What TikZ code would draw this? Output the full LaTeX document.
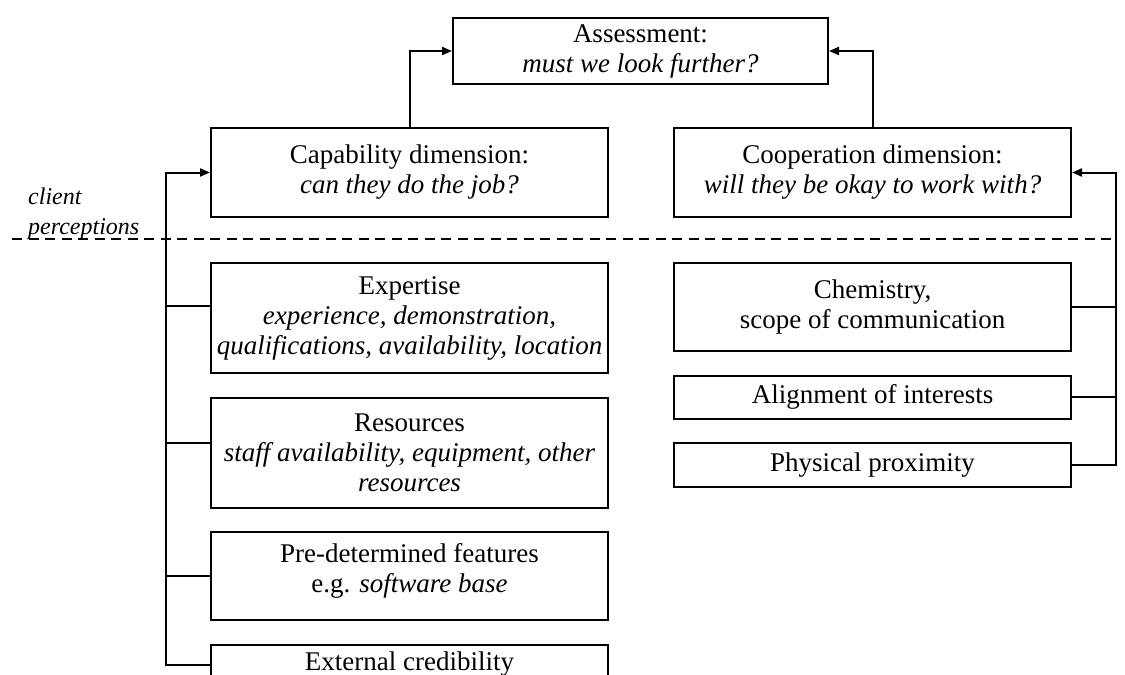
\documentclass[tikz,border=0pt]{standalone}
\usepackage{fontspec}
\setmainfont{Liberation Serif}
\usepackage{tikz}
\usetikzlibrary{positioning}
\usetikzlibrary{arrows.meta}

\begin{document}
\begin{tikzpicture}[x=1pt, y=-1pt,
            box/.style={draw, line width=2pt, rectangle, align=center, inner sep=0pt,
            minimum width=397pt, font=\fontsize{27}{30}\selectfont, node distance=22.5pt},
            link/.style={line width=2pt},
            >={Triangle[length=10pt, width=8pt]}]
        \clip (0,0) rectangle (1125,675);
        \fill[white] (0,0) rectangle (1125,675);

        % top row
        \node[box, minimum width=375pt, minimum height=66pt] (assess) at (640.5,51) {Assessment:\\ \textit{must we look further?}};
        \node[box, minimum height=89pt] (capab) at (409.5,172.5) {Capability dimension:\\ \textit{can they do the job?}};
        \node[box, minimum height=89pt] (coop) at (872.5,172.5) {Cooperation dimension:\\ \textit{will they be okay to work with?}};

        % capability factors
        \node[box, minimum height=110pt] (expertise) [below=44pt of capab] {Expertise\\ \textit{experience, demonstration,}\\ \textit{qualifications, availability, location}};
        \node[box, minimum height=110pt] (resources) [below=of expertise] {Resources\\ \textit{staff availability, equipment, other}\\ \textit{resources}};
        \node[box, minimum height=88pt, text depth=16pt] (predet) [below=of resources] {Pre-determined features\\ e.g. \textit{software base}};
        \node[box, minimum height=40pt] (external) [below=of predet] {External credibility};

        % cooperation factors
        \node[box, minimum height=88pt] (chem) [below=44pt of coop] {Chemistry,\\ scope of communication};
        \node[box, minimum height=43pt] (interests) [below=of chem] {Alignment of interests};
        \node[box, minimum height=44pt] (proximity) [below=of interests] {Physical proximity};

        \node[anchor=west, align=left, inner sep=0pt, font=\fontsize{24}{30}\selectfont\itshape] (perceptions) at (28,214) {client\\perceptions};
        \draw[line width=2.4pt, dash pattern=on 10pt off 6.5pt] (12,239) -- (1117,239);

        \coordinate[left=44pt of capab.west] (lbus);
        \coordinate[right=44pt of coop.east] (rbus);

        \draw[link, ->] (capab.north) |- (assess.west);
        \draw[link, ->] (coop.north) |- (assess.east);
        \draw[link, ->] (external.west) -| (lbus) -- (capab.west);
        \draw[link] ([yshift=12pt]expertise.west) -- ([yshift=12pt]expertise.west -| lbus);
        \draw[link] ([yshift=10pt]resources.west) -- ([yshift=10pt]resources.west -| lbus);
        \draw[link] (predet.west) -- (predet.west -| lbus);
        \draw[link, ->] (proximity.east) -| (rbus) -- (coop.east);
        \draw[link] (chem.east) -- (chem.east -| rbus);
        \draw[link] (interests.east) -- (interests.east -| rbus);
    \end{tikzpicture}
\end{document}
